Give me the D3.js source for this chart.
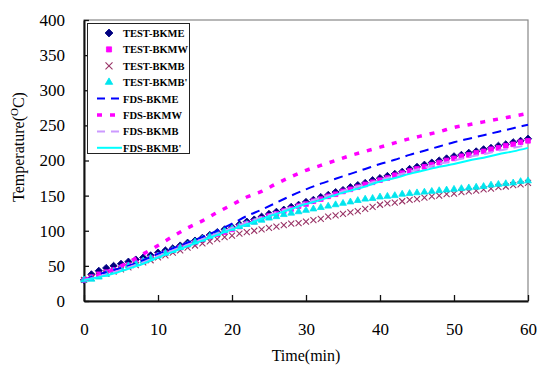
<!DOCTYPE html>
<html>
<head>
<meta charset="utf-8">
<script src="https://cdn.jsdelivr.net/npm/d3@7"></script>
<style>
  html, body { margin: 0; padding: 0; background: #fff; }
  svg, svg text { font-family: 'Liberation Serif', 'DejaVu Serif', serif; }
</style>
</head>
<body>
<div id="chart"></div>
<script>
// Test data, one reading per minute (0..60)
const testMinutes = d3.range(0, 61)
const testBKME = [30, 38, 43, 47, 50, 53, 56, 59, 62, 65, 69, 72, 75, 79, 83, 86, 90, 94, 98, 102, 105, 109, 113, 116, 120, 124, 127, 130, 134, 137, 141, 144, 148, 151, 155, 158, 162, 165, 168, 172, 175, 178, 181, 184, 188, 191, 194, 197, 200, 203, 206, 208, 211, 213, 216, 218, 221, 223, 226, 228, 231]
const testBKMW = [30, 34, 38, 41, 44, 47, 51, 54, 57, 61, 65, 68, 72, 76, 80, 83, 87, 91, 95, 98, 102, 106, 110, 113, 117, 121, 124, 128, 131, 135, 138, 142, 145, 149, 152, 156, 159, 162, 166, 169, 172, 175, 179, 182, 185, 188, 191, 194, 197, 200, 203, 206, 208, 211, 213, 216, 218, 221, 223, 226, 228]
const testBKMB = [30, 33, 36, 39, 42, 45, 48, 51, 55, 58, 62, 65, 69, 72, 76, 79, 82, 85, 88, 91, 93, 96, 98, 100, 102, 104, 106, 108, 110, 111, 113, 115, 117, 120, 122, 124, 126, 128, 131, 134, 137, 139, 140, 142, 144, 145, 147, 149, 150, 152, 153, 155, 156, 157, 159, 160, 162, 163, 165, 166, 168]
const testBKMBp = [30, 31, 34, 38, 42, 46, 50, 53, 57, 61, 64, 68, 72, 76, 80, 84, 88, 92, 96, 100, 103, 106, 109, 112, 115, 118, 120, 123, 125, 127, 129, 131, 133, 135, 137, 139, 141, 143, 145, 146, 148, 149, 150, 152, 153, 154, 155, 156, 157, 158, 159, 160, 161, 162, 163, 165, 166, 167, 168, 170, 171]

// FDS results, every 2 minutes
const fdsMinutes = d3.range(0, 61, 2)
const fdsBKME = [30, 38, 44, 50, 58, 67, 75, 83, 91, 100, 110, 121, 130, 140, 150, 159, 167, 174, 181, 188, 195, 201, 208, 214, 220, 226, 231, 236, 241, 246, 251]
const fdsBKMW = [30, 37, 45, 55, 67, 79, 92, 104, 114, 126, 137, 148, 156, 167, 177, 186, 193, 200, 207, 213, 219, 225, 231, 236, 241, 247, 251, 255, 259, 263, 267]
const fdsBKMB = [30, 35, 41, 48, 55, 64, 72, 80, 88, 96, 104, 112, 119, 126, 133, 140, 147, 153, 160, 166, 172, 178, 184, 190, 195, 200, 205, 209, 214, 218, 222]
const fdsBKMBp = [30, 34, 39, 46, 53, 62, 70, 78, 86, 94, 102, 109, 117, 124, 131, 138, 144, 151, 157, 163, 170, 175, 181, 186, 191, 195, 200, 204, 209, 213, 218]

const xTicks = [0, 10, 20, 30, 40, 50, 60]
const yTicks = [0, 50, 100, 150, 200, 250, 300, 350, 400]

const width = 538
const height = 369
const margins = { left: 84, right: 10, top: 20, bottom: 68 }

const testSeries = [
  { name: 'TEST-BKME', values: testBKME, color: '#000080', symbol: 'diamond', size: 26 },
  { name: 'TEST-BKMW', values: testBKMW, color: '#ff00ff', symbol: d3.symbolSquare, size: 22 },
  { name: 'TEST-BKMB', values: testBKMB, color: '#993366', symbol: 'cross', size: 3 },
  { name: 'TEST-BKMB\'', values: testBKMBp, color: '#00e5ee', symbol: d3.symbolTriangle, size: 20 }
]
const fdsSeries = [
  { name: 'FDS-BKME', values: fdsBKME, color: '#0000ff', width: 2, dash: '9,6' },
  { name: 'FDS-BKMW', values: fdsBKMW, color: '#ff00ff', width: 3.5, dash: '5,8' },
  { name: 'FDS-BKMB', values: fdsBKMB, color: '#cc99ff', width: 2, dash: '9,6' },
  { name: 'FDS-BKMB\'', values: fdsBKMBp, color: '#00ffff', width: 2, dash: null }
]

const xScale = d3.scaleLinear().domain([0, 60]).range([margins.left, width - margins.right])
const yScale = d3.scaleLinear().domain([0, 400]).range([height - margins.bottom, margins.top])

const svg = d3.select('#chart').append('svg')
  .attr('width', width)
  .attr('height', height)
  .attr('viewBox', [0, 0, width, height].join(' '))

// plot area border
svg.append('rect')
  .attr('x', xScale(0))
  .attr('y', yScale(400))
  .attr('width', xScale(60) - xScale(0))
  .attr('height', yScale(0) - yScale(400))
  .attr('fill', 'none')
  .attr('stroke', '#888')
  .attr('stroke-width', 1.2)

// axes
const xAxis = svg.append('g')
  .attr('transform', `translate(0, ${yScale(0)})`)
  .call(d3.axisBottom(xScale).tickValues(xTicks).tickSize(-6).tickPadding(22).tickSizeOuter(0))
xAxis.attr('font-family', null)
xAxis.select('.domain').attr('stroke', '#111').attr('stroke-width', 2)
xAxis.selectAll('.tick line').attr('stroke', '#111').attr('stroke-width', 1.3)
xAxis.selectAll('text').attr('font-size', 17).attr('fill', '#000')

const yAxis = svg.append('g')
  .attr('transform', `translate(${xScale(0)}, 0)`)
  .call(d3.axisLeft(yScale).tickValues(yTicks).tickSize(-5).tickPadding(19).tickSizeOuter(0))
yAxis.attr('font-family', null)
yAxis.select('.domain').attr('stroke', '#111').attr('stroke-width', 2)
yAxis.selectAll('.tick line').attr('stroke', '#111').attr('stroke-width', 1.3)
yAxis.selectAll('text').attr('font-size', 17).attr('fill', '#000')

// axis titles
svg.append('text')
  .attr('x', (xScale(0) + xScale(60)) / 2)
  .attr('y', 361)
  .attr('text-anchor', 'middle')
  .attr('font-size', 16)
  .text('Time(min)')

const yTitle = svg.append('text')
  .attr('transform', `translate(24, ${147}) rotate(-90)`)
  .attr('text-anchor', 'middle')
  .attr('font-size', 16)
yTitle.append('tspan').text('Temperature(')
yTitle.append('tspan').attr('font-size', 11).attr('dy', -6).text('O')
yTitle.append('tspan').attr('dy', 6).text('C)')

function drawMarker (g, s, cx, cy) {
  if (s.symbol === 'cross') {
    const r = s.size
    g.append('path')
      .attr('d', `M${cx - r},${cy - r}L${cx + r},${cy + r}M${cx - r},${cy + r}L${cx + r},${cy - r}`)
      .attr('stroke', s.color)
      .attr('stroke-width', 1.1)
      .attr('fill', 'none')
  } else {
    const diamond = s.symbol === 'diamond'
    g.append('path')
      .attr('d', d3.symbol().type(diamond ? d3.symbolSquare : s.symbol).size(s.size)())
      .attr('transform', `translate(${cx}, ${cy})` + (diamond ? ' rotate(45)' : ''))
      .attr('fill', s.color)
      .attr('stroke', s.color)
      .attr('stroke-width', 0.8)
  }
}

// test markers
testSeries.forEach(s => {
  const g = svg.append('g')
  testMinutes.forEach((t, i) => drawMarker(g, s, xScale(t), yScale(s.values[i])))
})

// FDS lines
fdsSeries.forEach(s => {
  const line = d3.line()
    .x((d, i) => xScale(fdsMinutes[i]))
    .y(d => yScale(d))
    .curve(d3.curveMonotoneX)
  svg.append('path')
    .datum(s.values)
    .attr('d', line)
    .attr('fill', 'none')
    .attr('stroke', s.color)
    .attr('stroke-width', s.width)
    .attr('stroke-dasharray', s.dash)
})

// legend
const legend = svg.append('g')
legend.append('rect')
  .attr('x', 87.5).attr('y', 23.5)
  .attr('width', 102).attr('height', 130)
  .attr('fill', '#fff')
  .attr('stroke', '#222')
  .attr('stroke-width', 1)

const rowY = i => 33 + i * 16.4
testSeries.forEach((s, i) => {
  const legendMarker = { ...s, size: s.symbol === 'cross' ? 3.5 : s.size * 1.2 }
  drawMarker(legend, legendMarker, 109, rowY(i))
  legend.append('text')
    .attr('x', 123).attr('y', rowY(i) + 4)
    .attr('font-size', 10.5).attr('font-weight', 'bold')
    .text(s.name)
})
fdsSeries.forEach((s, i) => {
  const y = rowY(i + 4)
  legend.append('line')
    .attr('x1', 97).attr('x2', 122)
    .attr('y1', y).attr('y2', y)
    .attr('stroke', s.color)
    .attr('stroke-width', s.width)
    .attr('stroke-dasharray', s.dash ? (s.width > 3 ? '5,8' : '8,6') : null)
  legend.append('text')
    .attr('x', 123).attr('y', y + 4)
    .attr('font-size', 10.5).attr('font-weight', 'bold')
    .text(s.name)
})
</script>
</body>
</html>
